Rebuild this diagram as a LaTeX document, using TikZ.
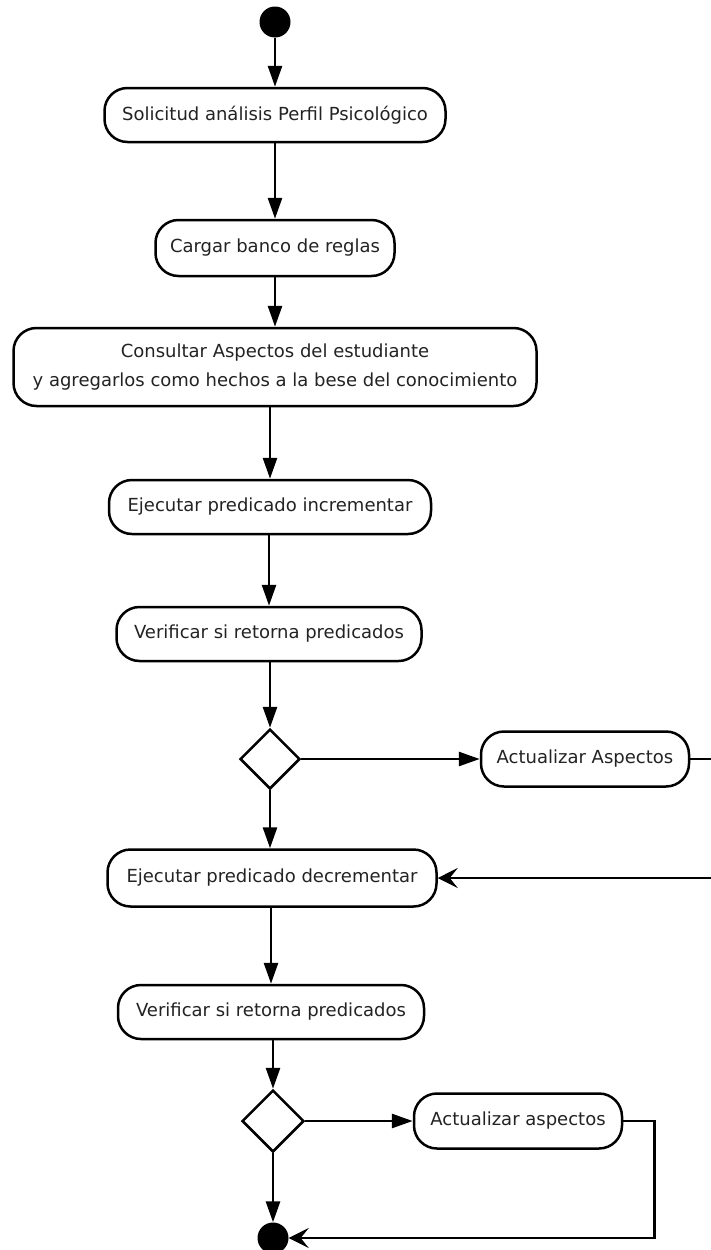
\documentclass[tikz,border=0pt]{standalone}
\usepackage{fontspec}
\setmainfont{DejaVu Sans}
\usetikzlibrary{shapes.geometric,arrows.meta}
\definecolor{txt}{RGB}{35,35,35}
\begin{document}
\begin{tikzpicture}[x=1pt,y=-1pt,
  act/.style={draw, line width=2.5pt, rounded corners=23pt, fill=white,
    font=\fontsize{18}{29}\selectfont, text=txt, align=center, inner sep=0pt},
  dec/.style={draw, diamond, line width=2.5pt, fill=white, aspect=1,
    minimum width=60pt, minimum height=60pt, inner sep=0pt},
  dot/.style={circle, fill=black, minimum size=31pt, inner sep=0pt},
  flow/.style={line width=2.8pt, -{Triangle[length=21pt,width=14pt]}},
  back/.style={line width=2.8pt, -{Stealth[length=20pt,width=20pt,inset=8pt]}}
]
\useasboundingbox (0,0) rectangle (710,1250);
\fill[white] (0,0) rectangle (710,1250);

% activities
\node[dot] (start) at (275,22) {};
\node[act, minimum width=341pt, minimum height=54pt] (b1) at (275,115)
  {Solicitud análisis Perfil Psicológico};
\node[act, minimum width=239pt, minimum height=56pt] (b2) at (275,248)
  {Cargar banco de reglas};
\node[act, minimum width=523pt, minimum height=78pt] (b3) at (275,367)
  {Consultar Aspectos del estudiante\\y agregarlos como hechos a la bese del conocimiento};
\node[act, minimum width=322pt, minimum height=54pt] (b4) at (270,507)
  {Ejecutar predicado incrementar};
\node[act, minimum width=305pt, minimum height=54pt] (b5) at (269,634)
  {Verificar si retorna predicados};
\node[dec] (d1) at (270,759) {};
\node[act, minimum width=208pt, minimum height=55pt] (a1) at (585,759)
  {Actualizar Aspectos};
\node[act, minimum width=329pt, minimum height=57pt] (b6) at (272,878)
  {Ejecutar predicado decrementar};
\node[act, minimum width=306pt, minimum height=54pt] (b7) at (271,1012)
  {Verificar si retorna predicados};
\node[dec, minimum width=62pt, minimum height=62pt] (d2) at (273,1121) {};
\node[act, minimum width=208pt, minimum height=55pt] (a2) at (518,1121)
  {Actualizar aspectos};
\node[dot] (end) at (273,1238) {};

% control flow
\draw[flow] (start) -- (b1);
\draw[flow] (b1) -- (b2);
\draw[flow] (b2) -- (b3);
\draw[flow] (b3.south -| b4) -- (b4);
\draw[flow] (b4.south -| b5) -- (b5.north);
\draw[flow] (b5.south -| d1) -- (d1);
\draw[flow] (d1) -- (a1);
\draw[flow] (d1.south) -- (d1.south |- b6.north);
\draw[back] (a1.east) -- ++(34,0) |- (b6.east);
\draw[flow] (b6.south -| b7) -- (b7);
\draw[flow] (b7.south -| d2) -- (d2);
\draw[flow] (d2) -- (a2);
\draw[flow] (d2) -- (end);
\draw[back] (a2.east) -- ++(31,0) |- (end.east);
\end{tikzpicture}
\end{document}
